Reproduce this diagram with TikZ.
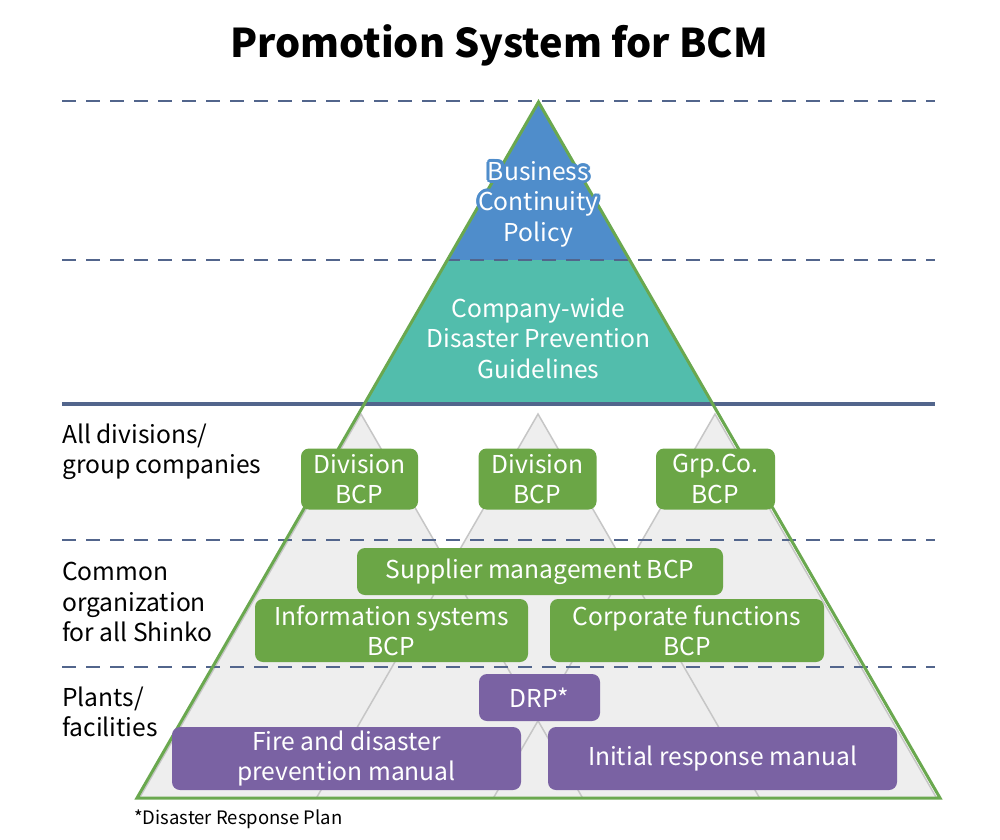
\documentclass[tikz,border=0pt]{standalone}
\usepackage{fontspec}
\setmainfont{Noto Sans CJK JP}
\usetikzlibrary{calc}
\definecolor{bluec}{HTML}{4F8DCB}
\definecolor{tealc}{HTML}{52BDAC}
\definecolor{greenc}{HTML}{6BA646}
\definecolor{edgec}{HTML}{6AA84F}
\definecolor{purplec}{HTML}{7A62A3}
\definecolor{linec}{HTML}{52658C}
\definecolor{innerc}{HTML}{C6C6C6}
\definecolor{innerfill}{HTML}{EEEEEE}
\newcommand{\labfont}{\fontsize{24.6}{30.5}\selectfont}
\begin{document}
\begin{tikzpicture}[x=1pt,y=-1pt,
  lab/.style={font=\labfont, align=center, inner sep=0pt},
  sidelab/.style={font=\labfont, align=left, inner sep=0pt, anchor=west},
  gbox/.style={fill=greenc, rounded corners=8pt, text=white, font=\labfont, align=center, inner sep=0pt},
  pbox/.style={fill=purplec, rounded corners=8pt, text=white, font=\labfont, align=center, inner sep=0pt},
  dashline/.style={draw=linec, line width=2pt, dash pattern=on 14pt off 10pt},
  innertri/.style={fill=innerfill},
  inneredge/.style={draw=innerc, line width=1.5pt}
]
\useasboundingbox (0,0) rectangle (1000,839);
\fill[white] (0,0) rectangle (1000,839);

% key points of the pyramid
\coordinate (apex) at (538.5,102);
\coordinate (bl) at (137,798);
\coordinate (br) at (940,798);
\coordinate (l260) at (447.3,260);
\coordinate (r260) at (629.7,260);
\coordinate (l404) at (364.3,404);
\coordinate (r404) at (712.7,404);

% inner triangles (clipped to the pyramid)
\coordinate (ta) at (361,414);
\coordinate (tb) at (538,414);
\coordinate (tc) at (715,414);
\coordinate (ta1) at (582.6,798); \coordinate (ta2) at (139.4,798);
\coordinate (tb1) at (759.6,798); \coordinate (tb2) at (316.4,798);
\coordinate (tc1) at (936.6,798); \coordinate (tc2) at (493.4,798);
\begin{scope}
  \clip (apex) -- (br) -- (bl) -- cycle;
  \path[innertri] (ta) -- (ta1) -- (ta2) -- cycle;
  \path[innertri] (tb) -- (tb1) -- (tb2) -- cycle;
  \path[innertri] (tc) -- (tc1) -- (tc2) -- cycle;
  \draw[inneredge] (ta2) -- (ta) -- (ta1);
  \draw[inneredge] (tb2) -- (tb) -- (tb1);
  \draw[inneredge] (tc2) -- (tc) -- (tc1);
\end{scope}

% top layers
\fill[bluec] (apex) -- (r260) -- (l260) -- cycle;
\fill[tealc] (l260) -- (r260) -- (r404) -- (l404) -- cycle;

% level lines
\coordinate (d1l) at (62,101);  \coordinate (d1r) at (935,101);
\coordinate (d2l) at (62,260);  \coordinate (d2r) at (935,260);
\coordinate (d3l) at (62,540);  \coordinate (d3r) at (935,540);
\coordinate (d4l) at (62,667);  \coordinate (d4r) at (935,667);
\coordinate (s1l) at (62,404);  \coordinate (s1r) at (935,404);
\draw[dashline] (d1l) -- (d1r);
\draw[dashline] (d2l) -- (d2r);
\draw[dashline] (d3l) -- (d3r);
\draw[dashline] (d4l) -- (d4r);
\draw[draw=linec, line width=3.5pt] (s1l) -- (s1r);

% outline
\draw[edgec, line width=3pt, line join=miter] (apex) -- (br) -- (bl) -- cycle;

% title
\node[font=\fontsize{39.6}{44}\selectfont\bfseries, inner sep=0pt] (title) at (499,45) {Promotion System for BCM};

% top texts
\foreach \ang in {0,22.5,...,337.5}
  \node[lab, text=bluec] (halo\ang) at ($(538.5,204)+(\ang:3)$) {Business\\Continuity\\Policy};
\node[lab, text=white] (policy) at (538.5,204) {Business\\Continuity\\Policy};
\node[lab, text=white] (guide) at (538.5,338) {Company-wide\\Disaster Prevention\\Guidelines};

% side labels
\node[sidelab] (lv1) at (62,452) {All divisions/\\group companies};
\node[sidelab] (lv2) at (62,602) {Common\\organization\\for all Shinko};
\node[sidelab] (lv3) at (62,712) {Plants/\\facilities};

% boxes
\node[gbox, minimum width=117pt, minimum height=61pt] (div1) at (359.5,479) {Division\\BCP};
\node[gbox, minimum width=118pt, minimum height=61pt] (div2) at (537.5,479) {Division\\BCP};
\node[gbox, minimum width=119pt, minimum height=61pt] (grp) at (715.5,479) {Grp.Co.\\BCP};
\node[gbox, minimum width=366pt, minimum height=47pt] (sup) at (540,571.5) {Supplier management BCP};
\node[gbox, minimum width=273pt, minimum height=63pt] (info) at (391.5,630.5) {Information systems\\BCP};
\node[gbox, minimum width=274pt, minimum height=63pt] (corp) at (687,630.5) {Corporate functions\\BCP};
\node[pbox, minimum width=121pt, minimum height=47pt] (drp) at (539.5,697.5) {DRP*};
\node[pbox, minimum width=349pt, minimum height=63pt] (fire) at (346.5,758.5) {Fire and disaster\\prevention manual};
\node[pbox, minimum width=349pt, minimum height=63pt] (init) at (722.5,758.5) {Initial response manual};

% footnote
\node[font=\fontsize{18.5}{22}\selectfont, anchor=west, inner sep=0pt] (foot) at (134,819) {*Disaster Response Plan};
\end{tikzpicture}
\end{document}
